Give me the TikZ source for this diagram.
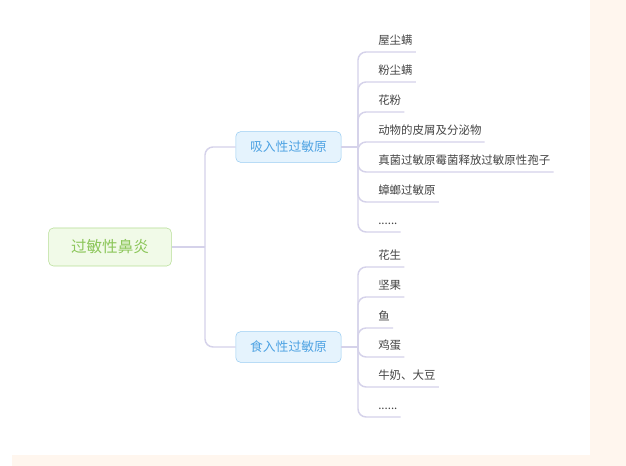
\documentclass[tikz,border=0pt]{standalone}
\usepackage{fontspec}
\newfontfamily\cjk{Noto Sans CJK SC}
\usetikzlibrary{calc}

\definecolor{linec}{HTML}{D5D2EA}
\definecolor{cream}{HTML}{FFF6EE}
\definecolor{rootfg}{HTML}{8CC65A}
\definecolor{rootbg}{HTML}{F1FAE8}
\definecolor{rootbd}{HTML}{B6DE95}
\definecolor{branchfg}{HTML}{4FA3E3}
\definecolor{branchbg}{HTML}{E5F3FD}
\definecolor{branchbd}{HTML}{99CDF3}
\definecolor{leaffg}{HTML}{454545}

\tikzset{
  conn/.style={draw=linec, line width=1.1pt},
  rootbox/.style={draw=rootbd, fill=rootbg, text=rootfg, rounded corners=3.5pt,
    minimum width=92pt, minimum height=28.5pt, font=\cjk\fontsize{11.7}{14}\selectfont},
  branchbox/.style={draw=branchbd, fill=branchbg, text=branchfg, rounded corners=3.5pt,
    minimum width=79pt, minimum height=23pt, font=\cjk\fontsize{9.6}{12}\selectfont},
  leaf/.style={anchor=south west, inner xsep=2.25pt, inner ysep=4.5pt, text=leaffg,
    text height=7.8pt, text depth=0.6pt, font=\cjk\fontsize{8.6}{10}\selectfont}
}

\begin{document}
\begin{tikzpicture}[x=0.75pt, y=-0.75pt]
      \fill[white] (0,0) rectangle (626,466);
      \fill[cream] (590,0) rectangle (626,466);
      \fill[cream] (12,455) rectangle (590,466);

      \node[rootbox] (root) at (110,247) {过敏性鼻炎};
      \node[branchbox] (inh) at (288.5,147) {吸入性过敏原};
      \node[branchbox] (ing) at (288.5,347) {食入性过敏原};

      \coordinate (sp0) at (205,247);
      \coordinate (sp1) at (358,147);
      \coordinate (sp2) at (358,347);

      \draw[conn] (root.east) -- (sp0);
      \draw[conn, rounded corners=6] (sp0) |- (inh.west);
      \draw[conn, rounded corners=6] (sp0) |- (ing.west);

      % inhaled
      \node[leaf] (a1) at (375,52) {屋尘螨};
      \node[leaf] (a2) at (375,82) {粉尘螨};
      \node[leaf] (a3) at (375,112) {花粉};
      \node[leaf] (a4) at (375,142) {动物的皮屑及分泌物};
      \node[leaf] (a5) at (375,172) {真菌过敏原霉菌释放过敏原性孢子};
      \node[leaf] (a6) at (375,202) {蟑螂过敏原};
      \node[leaf] (a7) at (375,232) {......};

      \draw[conn] (inh.east) -- (sp1);
      \draw[conn, rounded corners=6] (sp1) |- (a1.south east);
      \draw[conn, rounded corners=6] (sp1) |- (a2.south east);
      \draw[conn, rounded corners=6] (sp1) |- (a3.south east);
      \draw[conn, rounded corners=6] (sp1) |- (a4.south east);
      \draw[conn, rounded corners=6] (sp1) |- (a5.south east);
      \draw[conn, rounded corners=6] (sp1) |- (a6.south east);
      \draw[conn, rounded corners=6] (sp1) |- (a7.south east);

      % ingested
      \node[leaf] (b1) at (375,267) {花生};
      \node[leaf] (b2) at (375,297) {坚果};
      \node[leaf] (b3) at (375,328) {鱼};
      \node[leaf] (b4) at (375,357) {鸡蛋};
      \node[leaf] (b5) at (375,387) {牛奶、大豆};
      \node[leaf] (b6) at (375,417) {......};

      \draw[conn] (ing.east) -- (sp2);
      \draw[conn, rounded corners=6] (sp2) |- (b1.south east);
      \draw[conn, rounded corners=6] (sp2) |- (b2.south east);
      \draw[conn, rounded corners=6] (sp2) |- (b3.south east);
      \draw[conn, rounded corners=6] (sp2) |- (b4.south east);
      \draw[conn, rounded corners=6] (sp2) |- (b5.south east);
      \draw[conn, rounded corners=6] (sp2) |- (b6.south east);
    \end{tikzpicture}
\end{document}
